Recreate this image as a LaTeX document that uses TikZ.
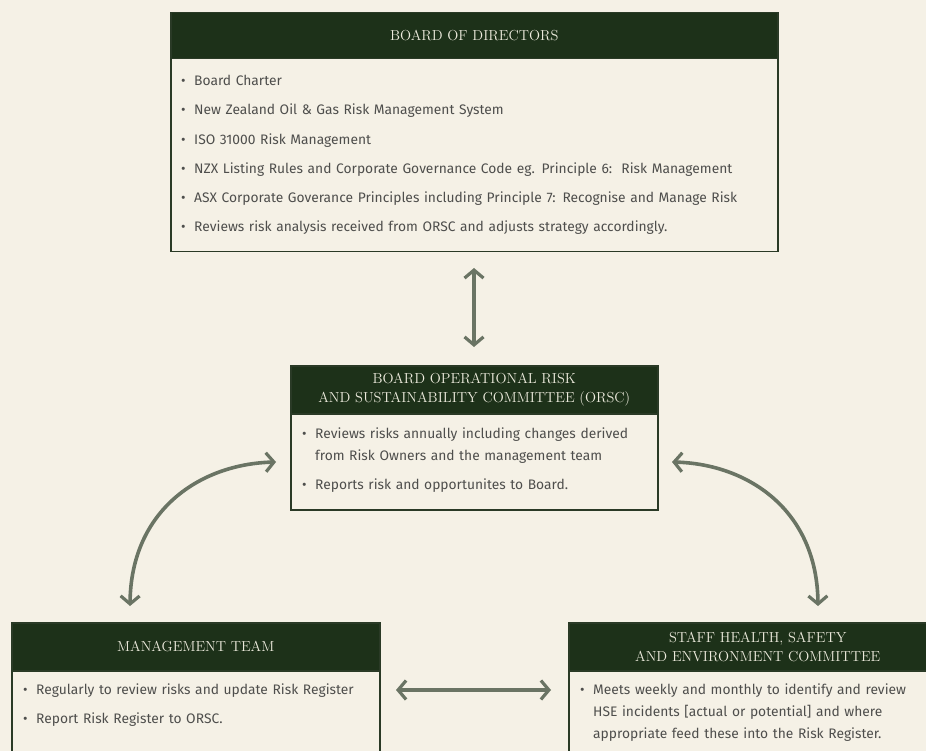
\documentclass[tikz,border=0pt]{standalone}
\usepackage{fontspec}
\setsansfont{Fira Sans}
\usetikzlibrary{arrows.meta}

\definecolor{paper}{HTML}{F5F1E6}
\definecolor{forest}{HTML}{1D3119}
\definecolor{frame}{HTML}{2A3A26}
\definecolor{headtext}{HTML}{EDEBDD}
\definecolor{bodytext}{HTML}{4E4E4C}
\definecolor{arrowgrey}{HTML}{6A7464}

% one bullet line with a hanging indent for wrapped text
\newcommand\bul[1]{\par\hangindent=13pt\hangafter=1\noindent\makebox[13pt][l]{\textbullet}#1}

\tikzset{
  headbox/.style={fill=forest, draw=frame, line width=1.5pt, anchor=north west,
    inner sep=0pt, font=\rmfamily\fontsize{14.5}{18.5}\selectfont, text=headtext, align=center},
  bodybox/.style={fill=paper, draw=frame, line width=1.5pt, anchor=north west, inner sep=0pt},
  bodylist/.style={anchor=north west, inner sep=0pt, text=bodytext, align=left,
    font=\sffamily\fontsize{13.8}{22}\selectfont\setlength{\parskip}{7.3pt}},
  link/.style={draw=arrowgrey, line width=3.6pt, line cap=round,
    {Straight Barb[length=8pt, width=19pt, line width=3.2pt]}-{Straight Barb[length=8pt, width=19pt, line width=3.2pt]}}
}

\begin{document}
\begin{tikzpicture}[x=1pt, y=-1pt]
\useasboundingbox (0,0) rectangle (926,751);
\fill[paper] (0,0) rectangle (926,751);

% Board of Directors
\node[bodybox, minimum width=607pt, minimum height=193pt] (board) at (170,58) {};
\node[headbox, minimum width=607pt, minimum height=46pt] (boardhead) at (170,12) {BOARD OF DIRECTORS};
\node[bodylist, text width=585pt] (boardlist) at (181,56) {%
  \bul{Board Charter}
  \bul{New Zealand Oil \& Gas Risk Management System}
  \bul{ISO 31000 Risk Management}
  \bul{NZX Listing Rules and Corporate Governance Code eg. Principle 6:\ \ Risk Management}
  \bul{ASX Corporate Goverance Principles including Principle 7: Recognise and Manage Risk}
  \bul{Reviews risk analysis received from ORSC and adjusts strategy accordingly.}\par};

% Operational Risk and Sustainability Committee
\node[bodybox, minimum width=367pt, minimum height=96pt] (orsc) at (290,413) {};
\node[headbox, minimum width=367pt, minimum height=48pt] (orschead) at (290,365)
  {BOARD OPERATIONAL RISK\\AND SUSTAINABILITY COMMITTEE (ORSC)};
\node[bodylist, text width=350pt] (orsclist) at (302,409) {%
  \bul{Reviews risks annually including changes derived\newline from Risk Owners and the management team}
  \bul{Reports risk and opportunites to Board.}\par};

% Management team
\node[bodybox, minimum width=368pt, minimum height=100pt] (mgmt) at (11,670) {};
\node[headbox, minimum width=368pt, minimum height=48pt] (mgmthead) at (11,622) {MANAGEMENT TEAM};
\node[bodylist, text width=355pt] (mgmtlist) at (23,665) {%
  \bul{Regularly to review risks and update Risk Register}
  \bul{Report Risk Register to ORSC.}\par};

% Staff health, safety and environment committee
\node[bodybox, minimum width=378pt, minimum height=100pt] (hse) at (568,670) {};
\node[headbox, minimum width=378pt, minimum height=48pt] (hsehead) at (568,622)
  {STAFF HEALTH, SAFETY\\AND ENVIRONMENT COMMITTEE};
\node[bodylist, text width=350pt] (hselist) at (580,665) {%
  \bul{Meets weekly and monthly to identify and review\newline HSE incidents [actual or potential] and where\newline appropriate feed these into the Risk Register.}\par};

% free ends of the connectors
\coordinate (vtop) at (474,268);
\coordinate (vbot) at (474,347);
\coordinate (htl) at (396,690);
\coordinate (htr) at (551,690);
\coordinate (lctop) at (276,462);
\coordinate (lcbot) at (130,606);
\coordinate (rctop) at (672,462);
\coordinate (rcbot) at (818,606);

\draw[link] (vtop) -- (vbot);
\draw[link] (htl) -- (htr);
\draw[link] (lctop) .. controls (200,464) and (131,510) .. (lcbot);
\draw[link] (rctop) .. controls (748,464) and (817,510) .. (rcbot);
\end{tikzpicture}
\end{document}
